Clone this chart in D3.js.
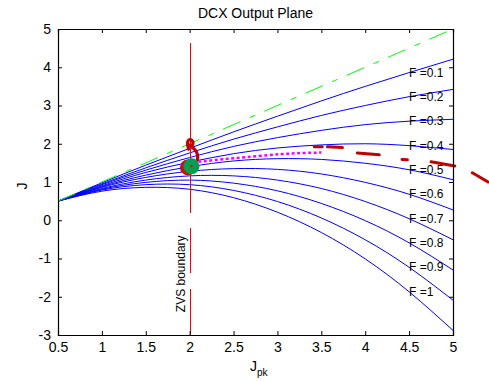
<!DOCTYPE html>
<html><head><meta charset="utf-8">
<script src="https://cdn.jsdelivr.net/npm/d3@7"></script>
<style>
body{margin:0;background:#fff;}
svg{display:block;font-family:"Liberation Sans",Arial,sans-serif;}
</style></head>
<body><svg id="chart" width="489" height="381"></svg>
<script>
// ---- data ----
const jpkGrid = [0.5, 1, 1.5, 2, 2.5, 3, 3.5, 4, 4.5, 5];
const fLabels = ["F =0.1","F =0.2","F =0.3","F =0.4","F =0.5","F =0.6","F =0.7","F =0.8","F =0.9","F =1"];
const jF01 = [0.5, 0.98, 1.44, 1.88, 2.31, 2.72, 3.12, 3.50, 3.86, 4.21];
const jF02 = [0.5, 0.95, 1.37, 1.76, 2.12, 2.44, 2.74, 3.00, 3.23, 3.42];
const jF03 = [0.5, 0.93, 1.31, 1.64, 1.93, 2.16, 2.35, 2.50, 2.59, 2.64];
const jF04 = [0.5, 0.90, 1.25, 1.52, 1.74, 1.89, 1.97, 2.00, 1.95, 1.85];
const jF05 = [0.5, 0.88, 1.18, 1.40, 1.55, 1.61, 1.59, 1.49, 1.32, 1.06];
const jF06 = [0.5, 0.86, 1.12, 1.28, 1.35, 1.33, 1.21, 0.99, 0.68, 0.27];
const jF07 = [0.5, 0.83, 1.05, 1.16, 1.16, 1.05, 0.83, 0.49, 0.04, -0.51];
const jF08 = [0.5, 0.81, 0.99, 1.05, 0.97, 0.77, 0.44, -0.01, -0.59, -1.30];
const jF09 = [0.5, 0.79, 0.93, 0.93, 0.78, 0.49, 0.06, -0.51, -1.23, -2.09];
const jF10 = [0.5, 0.76, 0.86, 0.81, 0.59, 0.21, -0.32, -1.01, -1.87, -2.88];
const labelJpk = 4.5;
const idealLine = [[0.5, 0.5], [5, 5]];
const zvsSegments = [[[2, 4.64], [2, 0.19]], [[2, -0.20], [2, -1.38]], [[2, -1.80], [2, -3]]];
const zvsText = "ZVS boundary";
const magentaPath = [[2.1, 1.53], [2.5, 1.62], [3.05, 1.73], [3.5, 1.77]];
const redDashes = [
  [[3.42, 1.92], [3.51, 1.92]],
  [[3.57, 1.92], [3.74, 1.90]],
  [[3.91, 1.76], [4.16, 1.71]],
  [[4.42, 1.59], [4.48, 1.58]],
  [[4.75, 1.53], [5.02, 1.42]],
  [[5.22, 1.24], [5.40, 1.00]]
];
const redHook = [[1.987, 1.86], [1.975, 2.02], [1.992, 2.10], [2.027, 2.085], [2.038, 2.01], [2.015, 1.94], [1.992, 1.97], [2.038, 1.89], [2.072, 1.81], [2.089, 1.71], [2.089, 1.60], [2.072, 1.52]];
const redPoint = [1.98, 1.38];
const greenPoint = [2.02, 1.41];
const xTicks = [0.5, 1, 1.5, 2, 2.5, 3, 3.5, 4, 4.5, 5];
const yTicks = [-3, -2, -1, 0, 1, 2, 3, 4, 5];
const titleText = "DCX Output Plane";

// ---- drawing ----
const svg = d3.select("#chart");
const L = 58, R = 453, T = 29, B = 335;
const x = d3.scaleLinear().domain([0.5, 5]).range([L, R]);
const y = d3.scaleLinear().domain([-3, 5]).range([B, T]);

const line = d3.line().x(d => x(d[0])).y(d => y(d[1]));
const smooth = d3.line().x(d => x(d[0])).y(d => y(d[1])).curve(d3.curveNatural);
const hookLine = d3.line().x(d => x(d[0])).y(d => y(d[1])).curve(d3.curveCatmullRom);

const plot = svg.append("g");
const curves = [jF01, jF02, jF03, jF04, jF05, jF06, jF07, jF08, jF09, jF10];
curves.forEach(c => {
  plot.append("path").attr("d", smooth(jpkGrid.map((v, i) => [v, c[i]])))
    .attr("fill", "none").attr("stroke", "#0000ff").attr("stroke-width", 1);
});
plot.append("path").attr("d", line(idealLine)).attr("fill", "none")
  .attr("stroke", "#00ff00").attr("stroke-width", 1).attr("stroke-dasharray", "19,10,6,10");

zvsSegments.forEach(s => plot.append("line")
  .attr("x1", Math.round(x(s[0][0])) + 0.5).attr("x2", Math.round(x(s[1][0])) + 0.5)
  .attr("y1", y(s[0][1])).attr("y2", y(s[1][1]))
  .attr("stroke", "#ff0000").attr("stroke-width", 1).attr("shape-rendering", "crispEdges"));

plot.append("path").attr("d", smooth(magentaPath)).attr("fill", "none")
  .attr("stroke", "#ff00ff").attr("stroke-width", 2.5).attr("stroke-dasharray", "3,2.5");

redDashes.forEach(s => plot.append("path").attr("d", line(s)).attr("fill", "none")
  .attr("stroke", "#c00000").attr("stroke-width", 3).attr("stroke-linecap", "round"));

plot.append("path").attr("d", hookLine(redHook)).attr("fill", "none")
  .attr("stroke", "#c00000").attr("stroke-width", 3.2).attr("stroke-linecap", "round")
  .attr("stroke-linejoin", "round");

plot.append("circle").attr("cx", x(redPoint[0])).attr("cy", y(redPoint[1])).attr("r", 8).attr("fill", "#cc1010");
plot.append("circle").attr("cx", x(greenPoint[0])).attr("cy", y(greenPoint[1])).attr("r", 8).attr("fill", "#00a050");
plot.append("circle").attr("cx", x(greenPoint[0])).attr("cy", y(greenPoint[1])).attr("r", 1.2).attr("fill", "#ff0000");

// F labels
fLabels.forEach((t, i) => {
  const c = curves[i];
  svg.append("text").attr("x", x(labelJpk)).attr("y", y(c[jpkGrid.indexOf(labelJpk)]))
    .attr("dy", "0.35em").attr("font-size", 12).attr("fill", "#000").text(t);
});

// ZVS label
svg.append("text").attr("transform", `translate(${x(2) - 5},${y(-1.4)}) rotate(-90)`)
  .attr("text-anchor", "middle").attr("font-size", 12).text(zvsText);

// axes box
const fmt = d => String(d);
const axB = d3.axisBottom(x).tickValues(xTicks).tickSize(-4).tickPadding(7).tickFormat(fmt);
const axT = d3.axisTop(x).tickValues(xTicks).tickSize(-4).tickFormat("");
const axL = d3.axisLeft(y).tickValues(yTicks).tickSize(-4).tickPadding(7).tickFormat(fmt);
const axR = d3.axisRight(y).tickValues(yTicks).tickSize(-4).tickFormat("");
function styleAx(g) {
  g.select(".domain").attr("stroke", "#000").attr("stroke-width", 1.2);
  g.selectAll(".tick line").attr("stroke", "#000");
  g.selectAll("text").attr("font-size", 14).attr("font-family", "Liberation Sans, Arial, sans-serif").attr("fill", "#000");
}
svg.append("g").attr("transform", `translate(0,${B})`).call(axB).call(styleAx);
svg.append("g").attr("transform", `translate(0,${T})`).call(axT).call(styleAx);
svg.append("g").attr("transform", `translate(${L},0)`).call(axL).call(styleAx);
svg.append("g").attr("transform", `translate(${R},0)`).call(axR).call(styleAx);

// title and axis labels
svg.append("text").attr("x", (L + R) / 2).attr("y", 18).attr("text-anchor", "middle")
  .attr("font-size", 14).text(titleText);
const xl = svg.append("text").attr("x", 250).attr("y", 371).attr("font-size", 14);
xl.append("tspan").text("J");
xl.append("tspan").attr("font-size", 10).attr("dy", 5).text("pk");
svg.append("text").attr("transform", `translate(27,${(T + B) / 2 + 4}) rotate(-90)`)
  .attr("text-anchor", "middle").attr("font-size", 14).text("J");
</script></body></html>
